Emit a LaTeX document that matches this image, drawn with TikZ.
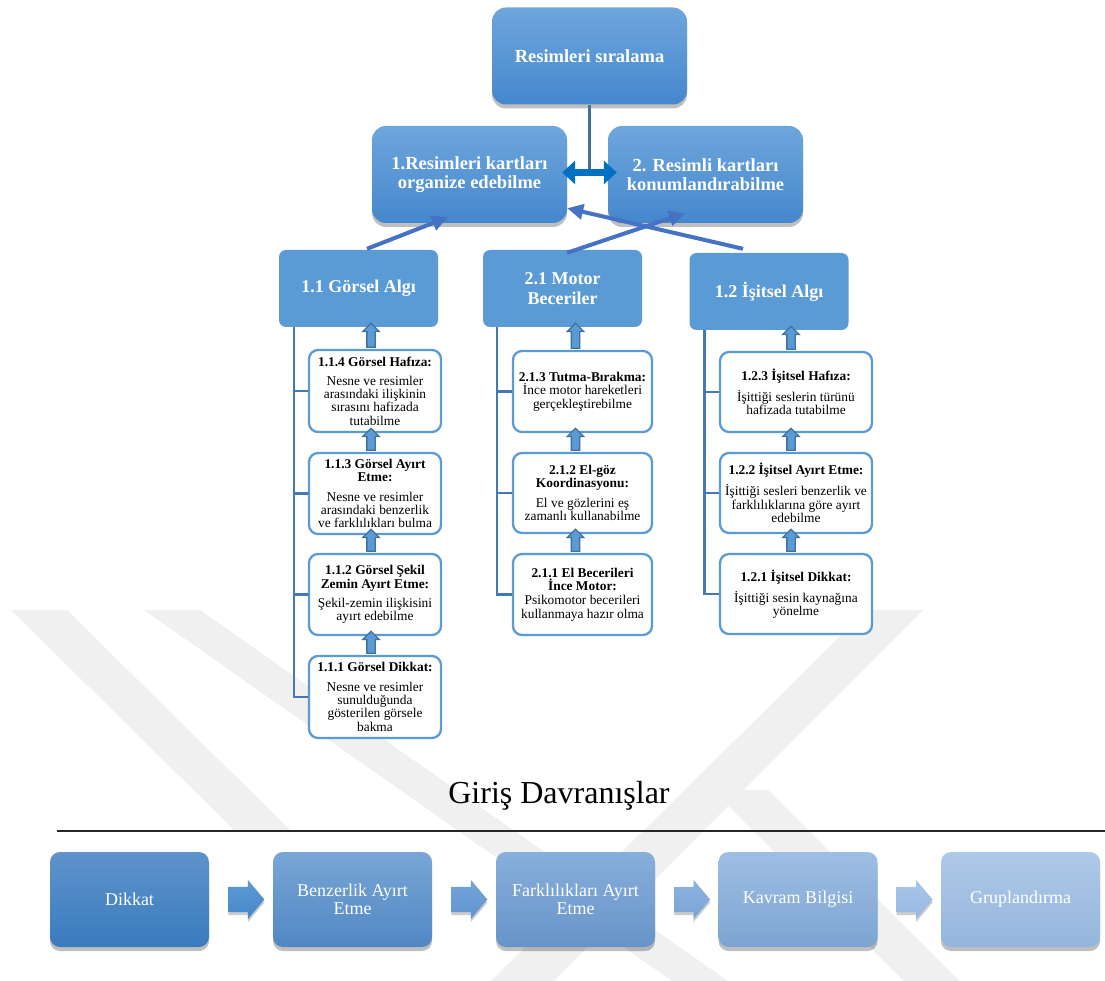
\documentclass[tikz,border=0pt]{standalone}
\usepackage{fontspec}
\setmainfont{Liberation Serif}
\usetikzlibrary{shapes.arrows, arrows.meta, shadows, calc}

\definecolor{topblue}{HTML}{6EA6DC}
\definecolor{botblue}{HTML}{4587CD}
\definecolor{algblue}{HTML}{5B9BD5}
\definecolor{linkblue}{HTML}{4472C4}
\definecolor{dblblue}{HTML}{0070C0}
\definecolor{treeblue}{HTML}{4579B4}
\definecolor{kidarrow}{HTML}{41719C}
\definecolor{wmgray}{HTML}{F0F0F0}
% giris davranislari renkleri
\definecolor{d1top}{HTML}{5E93CB}\definecolor{d1bot}{HTML}{3A7BBE}
\definecolor{d2top}{HTML}{79A6D6}\definecolor{d2bot}{HTML}{5087C2}
\definecolor{d3top}{HTML}{88AFDB}\definecolor{d3bot}{HTML}{6694C9}
\definecolor{d4top}{HTML}{9FBEE3}\definecolor{d4bot}{HTML}{7CA4D2}
\definecolor{d5top}{HTML}{AFC9E8}\definecolor{d5bot}{HTML}{94B5DC}
\definecolor{f1top}{HTML}{5C9BD6}\definecolor{f1bot}{HTML}{4787C8}
\definecolor{f2top}{HTML}{74A5DA}\definecolor{f2bot}{HTML}{6194CD}
\definecolor{f3top}{HTML}{8DB3DF}\definecolor{f3bot}{HTML}{7AA4D5}
\definecolor{f4top}{HTML}{A9C6E8}\definecolor{f4bot}{HTML}{96B8E0}

\tikzset{
    mainbox/.style={rounded corners=14pt, top color=topblue, bottom color=botblue, text=white,
        font=\bfseries\fontsize{18.5}{19.5}\selectfont, align=center,
        minimum width=195pt, minimum height=97pt,
        drop shadow={shadow xshift=0pt, shadow yshift=-4pt, opacity=.25, fill=black}},
    algbox/.style={rounded corners=7pt, fill=algblue, text=white,
        font=\bfseries\fontsize{18}{19.5}\selectfont, align=center,
        minimum width=159pt, minimum height=77pt},
    kidbox/.style={rounded corners=9pt, draw=algblue, line width=2.3pt, fill=white,
        align=center, font=\fontsize{13.4}{13.3}\selectfont, inner sep=1pt},
    uparr/.style={single arrow, shape border rotate=90, draw=kidarrow, fill=algblue,
        line width=1.3pt, inner sep=3.5pt, single arrow head extend=4pt, minimum height=#1},
    link/.style={draw=linkblue, line width=4pt, -{Triangle[length=16pt, width=15pt]}},
    treeline/.style={draw=treeblue, line width=2.6pt},
    flowbox/.style={rounded corners=10pt, top color=#1top, bottom color=#1bot, text=white,
        font=\fontsize{18}{18.5}\selectfont, align=center,
        minimum width=159pt, minimum height=95pt,
        drop shadow={shadow xshift=0pt, shadow yshift=-4pt, opacity=.25, fill=black}},
    flowarr/.style={single arrow, top color=#1top, bottom color=#1bot, inner sep=12.5pt,
        single arrow head extend=7pt, minimum height=34pt, single arrow tip angle=100,
        drop shadow={shadow xshift=0pt, shadow yshift=-3pt, opacity=.2, fill=black}},
    wmark/.style={fill=wmgray}
}

\begin{document}
\begin{tikzpicture}[x=1pt, y=-1pt]
    \useasboundingbox (0,0) rectangle (1105,981);

    % filigran
    \fill[wmark] (11,610) -- (67,610) -- (290,830) -- (234,830) -- cycle;
    \fill[wmark] (144,610) -- (200,610) -- (728,981) -- (672,981) -- cycle;
    \fill[wmark] (867,610) -- (923,610) -- (554,981) -- (491,981) -- cycle;
    \fill[wmark] (712,790) -- (768,790) -- (960,981) -- (904,981) -- cycle;

    % ust kisim
    \node[mainbox] (top) at (589.5,56) {Resimleri sıralama};
    \node[mainbox] (org) at (469.5,174.5) {1.Resimleri kartları\\organize edebilme};
    \node[mainbox] (kon) at (705.5,174.5) {2. Resimli kartları\\konumlandırabilme};

    \draw[draw=kidarrow, line width=3pt] (top.south) -- (top.south |- org.east);
    \draw[draw=dblblue, line width=7pt, {Triangle[length=13pt, width=23pt]}-{Triangle[length=13pt, width=23pt]}]
        ($(org.east)+(-5,-2)$) -- ($(kon.west)+(9,-2)$);

    \node[algbox] (g11) at (358.5,288.5) {1.1 Görsel Algı};
    \node[algbox] (g21) at (562.5,288.5) {2.1 Motor\\Beceriler};
    \node[algbox] (g12) at (769,291.5) {1.2 İşitsel Algı};

    \draw[link] ($(g11.north)+(8.5,-1)$) -- ($(org.south)+(-21.5,-6)$);
    \draw[link] ($(g21.north)+(4.5,3)$) -- ($(kon.south)+(-20.5,-10)$);
    \draw[link] ($(g12.north)+(-26,-4)$) -- ($(org.south east)+(0,-15)$);

    % 1.1 Gorsel Algi
    \node[kidbox, minimum width=132pt, minimum height=82pt] (c114) at (375,391)
        {\textbf{1.1.4 Görsel Hafıza:}\\[6pt]Nesne ve resimler\\arasındaki ilişkinin\\sırasını hafizada\\tutabilme};
    \node[kidbox, minimum width=132pt, minimum height=81pt] (c113) at (375,493.5)
        {\textbf{1.1.3 Görsel Ayırt}\\\textbf{Etme:}\\[6pt]Nesne ve resimler\\arasındaki benzerlik\\ve farklılıkları bulma};
    \node[kidbox, minimum width=132pt, minimum height=81pt] (c112) at (375,594.5)
        {\textbf{1.1.2 Görsel Şekil}\\\textbf{Zemin Ayırt Etme:}\\[6pt]Şekil-zemin ilişkisini\\ayırt edebilme};
    \node[kidbox, minimum width=132pt, minimum height=82pt] (c111) at (375,697)
        {\textbf{1.1.1 Görsel Dikkat:}\\[6pt]Nesne ve resimler\\sunulduğunda\\gösterilen görsele\\bakma};

    % 2.1 Motor Beceriler
    \node[kidbox, minimum width=139pt, minimum height=81pt] (c213) at (582.5,391.5)
        {\textbf{2.1.3 Tutma-Bırakma:}\\İnce motor hareketleri\\gerçekleştirebilme};
    \node[kidbox, minimum width=139pt, minimum height=80pt] (c212) at (582.5,493)
        {\textbf{2.1.2 El-göz}\\\textbf{Koordinasyonu:}\\[6pt]El ve gözlerini eş\\zamanlı kullanabilme};
    \node[kidbox, minimum width=139pt, minimum height=81pt] (c211) at (582.5,594.5)
        {\textbf{2.1.1 El Becerileri}\\\textbf{İnce Motor:}\\[1pt]Psikomotor becerileri\\kullanmaya hazır olma};

    % 1.2 Isitsel Algi
    \node[kidbox, minimum width=152pt, minimum height=80pt] (c123) at (796,392)
        {\textbf{1.2.3 İşitsel Hafıza:}\\[6pt]İşittiği seslerin türünü\\hafizada tutabilme};
    \node[kidbox, minimum width=152pt, minimum height=80pt] (c122) at (796,493)
        {\textbf{1.2.2 İşitsel Ayırt Etme:}\\[6pt]İşittiği sesleri benzerlik ve\\farklılıklarına göre ayırt\\edebilme};
    \node[kidbox, minimum width=152pt, minimum height=80pt] (c121) at (796,594)
        {\textbf{1.2.1 İşitsel Dikkat:}\\[6pt]İşittiği sesin kaynağına\\yönelme};

    % agac cizgileri
    \coordinate (t1) at ($(g11.south west)+(15,0)$);
    \coordinate (t2) at ($(g21.south west)+(14,0)$);
    \coordinate (t3) at ($(g12.south west)+(15,0)$);
    \draw[treeline] (t1) |- (c111.west);
    \draw[treeline] (t2) |- (c211.west);
    \draw[treeline] (t3) |- (c121.west);
    \foreach \k in {c114,c113,c112} \draw[treeline] (t1 |- \k.west) -- (\k.west);
    \foreach \k in {c213,c212} \draw[treeline] (t2 |- \k.west) -- (\k.west);
    \foreach \k in {c123,c122} \draw[treeline] (t3 |- \k.west) -- (\k.west);

    % yukari oklar
    \node[uparr=24pt] (u1) at ($(c114.north)+(-4,-11.5)$) {};
    \node[uparr=22pt] (u2) at ($(c113.north)+(-4,-10.5)$) {};
    \node[uparr=22pt] (u3) at ($(c112.north)+(-4,-10.5)$) {};
    \node[uparr=22pt] (u4) at ($(c111.north)+(-4,-10.5)$) {};
    \node[uparr=25pt] (u5) at ($(c213.north)+(-7,-12)$) {};
    \node[uparr=22pt] (u6) at ($(c212.north)+(-7,-10.5)$) {};
    \node[uparr=22pt] (u7) at ($(c211.north)+(-7,-10.5)$) {};
    \node[uparr=23pt] (u8) at ($(c123.north)+(-5,-11)$) {};
    \node[uparr=22pt] (u9) at ($(c122.north)+(-5,-10.5)$) {};
    \node[uparr=22pt] (u10) at ($(c121.north)+(-5,-10.5)$) {};

    % giris davranislari
    \node[font=\fontsize{32}{34}\selectfont, anchor=base] (ttl) at (559,803) {Giriş Davranışlar};
    \draw[black!85, line width=1.8pt] (57,831) -- (1105,831);

    \node[flowbox=d1] (d1) at (129.5,899.5) {Dikkat};
    \node[flowbox=d2] (d2) at (352.5,899.5) {Benzerlik Ayırt\\Etme};
    \node[flowbox=d3] (d3) at (575.5,899.5) {Farklılıkları Ayırt\\Etme};
    \node[flowbox=d4] (d4) at (798,899.5) {Kavram Bilgisi};
    \node[flowbox=d5] (d5) at (1020.5,899.5) {Gruplandırma};

    \node[flowarr=f1] (f1) at ($(d1.east)!.5!(d2.west)$) {};
    \node[flowarr=f2] (f2) at ($(d2.east)!.5!(d3.west)$) {};
    \node[flowarr=f3] (f3) at ($(d3.east)!.5!(d4.west)$) {};
    \node[flowarr=f4] (f4) at ($(d4.east)!.5!(d5.west)$) {};
\end{tikzpicture}
\end{document}
